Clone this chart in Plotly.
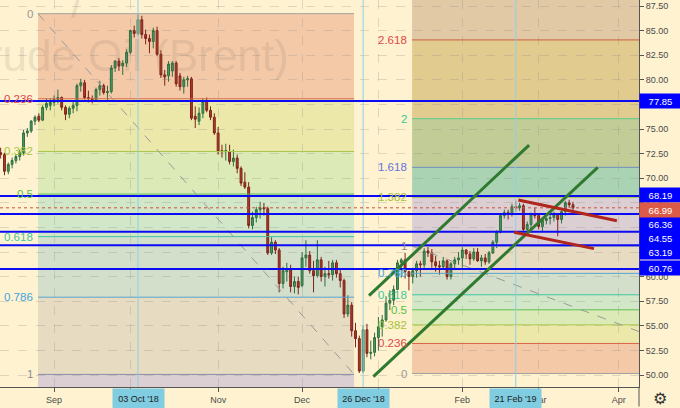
import plotly.graph_objects as go
import pandas as pd

# ---------------- data ----------------
HOLIDAYS = ["2018-12-25", "2019-01-01"]
dates = [d.strftime("%Y-%m-%d") for d in pd.bdate_range("2018-08-13", "2019-03-14")
         if d.strftime("%Y-%m-%d") not in HOLIDAYS]

opens = [
    72.9, 72.6, 72.4, 70.7, 71.4, 71.8, 72.2, 72.6, 74.6, 74.8, 75.8, 76.3, 75.9, 77.2, 77.4,
    77.7, 78.0, 78.2, 77.2, 76.5, 77.1, 77.4, 79.4, 79.7, 78.2, 78.1, 78.0, 79.0, 79.4, 78.7, 78.8, 81.2, 81.9, 81.4, 81.7,
    82.8, 85.0, 84.7, 86.1, 84.6, 84.2, 83.9, 85.0, 82.6, 80.5, 80.4, 80.9, 81.7, 80.4, 79.3, 80.0, 80.1, 76.3, 75.8, 76.6, 77.8, 76.9, 76.2,
    74.6, 72.8, 72.7, 72.7, 71.7, 72.05, 71.0, 69.6, 69.1, 65.2, 66.0, 66.8, 67.0, 66.9, 62.4, 63.5, 62.7, 59.3, 60.5, 60.8, 59.0, 59.5,
    59.1, 61.9, 62.2, 60.6, 60.1, 61.7, 60.0, 60.3, 60.2, 61.4, 60.3, 59.6, 56.2, 57.1, 54.5, 53.7, 50.4, 54.6, 52.2, 52.3,
    53.8, 54.9, 55.6, 57.3, 57.6, 58.7, 61.4, 61.7, 60.5, 60.0, 60.6, 61.3, 61.2, 62.6, 62.4, 61.5, 61.1, 61.0, 61.6, 60.0, 61.3, 61.7,
    61.9, 62.7, 62.3, 61.8, 62.5, 61.6, 61.9, 61.5, 62.4, 63.5, 64.5, 66.2, 66.5, 66.4, 67.1, 67.0, 67.2, 64.8, 65.3, 66.3,
    66.2, 65.1, 65.7, 65.9, 66.0, 66.3, 65.8, 66.6, 67.5, 67.3,
]
highs = [
    73.3, 73.1, 72.6, 71.6, 72.1, 72.4, 72.9, 74.9, 75.1, 75.9, 76.4, 76.6, 77.4, 78.1, 78.1,
    78.4, 79.0, 78.3, 77.4, 77.3, 77.8, 79.6, 80.1, 80.0, 78.9, 78.4, 79.2, 79.9, 79.6, 79.4, 81.5, 82.0, 82.2, 82.0, 83.1,
    85.1, 85.5, 86.72, 86.5, 85.1, 84.6, 85.3, 85.4, 83.0, 81.0, 81.9, 81.9, 81.9, 80.7, 80.3, 80.4, 80.3, 77.3, 77.2, 78.1, 78.2, 77.3, 76.6,
    75.2, 73.4, 73.5, 73.4, 72.9, 72.4, 71.2, 70.6, 69.6, 66.6, 67.1, 67.6, 67.5, 67.1, 64.0, 63.7, 62.9, 61.0, 61.4, 61.2, 60.0, 60.0,
    62.5, 63.7, 62.6, 61.6, 63.7, 62.0, 61.0, 61.6, 61.7, 61.7, 60.7, 59.8, 58.1, 57.4, 55.3, 54.0, 55.0, 55.2, 53.5, 54.3,
    55.9, 56.1, 58.0, 58.6, 59.1, 61.7, 61.9, 62.4, 60.6, 60.9, 61.6, 61.6, 62.9, 63.0, 62.8, 62.1, 61.6, 62.0, 61.7, 61.5, 62.0, 62.5,
    63.0, 62.8, 62.6, 62.9, 62.9, 62.2, 62.3, 62.6, 63.7, 64.7, 66.4, 66.8, 66.8, 67.4, 67.7, 67.5, 67.4, 65.6, 66.5, 67.0,
    66.4, 65.9, 66.0, 66.3, 66.6, 66.4, 66.7, 67.7, 67.8, 67.6,
]
lows = [
    72.2, 72.0, 70.3, 70.4, 71.0, 71.5, 71.8, 72.3, 74.2, 74.6, 75.4, 75.7, 75.8, 76.9, 76.9,
    77.3, 77.6, 76.9, 75.9, 76.1, 76.6, 76.8, 78.8, 78.0, 77.7, 77.6, 77.9, 78.4, 78.5, 77.9, 78.6, 80.8, 80.9, 80.5, 81.3,
    82.6, 84.3, 84.5, 84.2, 83.6, 82.7, 83.2, 82.4, 80.2, 79.4, 79.8, 80.3, 79.3, 78.9, 78.6, 79.3, 75.9, 75.1, 75.4, 76.1, 76.7, 75.9, 74.4,
    72.4, 72.1, 71.8, 71.4, 71.2, 70.5, 69.2, 68.9, 64.9, 64.8, 65.5, 65.9, 66.2, 62.2, 62.2, 62.3, 58.4, 58.8, 59.5, 58.4, 58.3, 58.2,
    58.9, 61.0, 60.3, 58.4, 59.9, 59.5, 59.0, 59.8, 59.6, 59.9, 58.9, 55.8, 55.9, 53.9, 52.8, 50.2, 50.2, 51.8, 51.6, 51.9,
    52.5, 53.9, 55.4, 56.6, 57.1, 58.6, 59.9, 59.8, 58.6, 59.3, 59.9, 60.0, 60.9, 62.0, 60.9, 60.5, 60.2, 60.8, 59.7, 59.7, 60.8, 61.2,
    60.9, 61.8, 61.2, 61.6, 61.5, 61.0, 61.2, 61.3, 62.3, 62.9, 64.4, 65.9, 65.8, 66.1, 66.6, 66.7, 64.6, 64.4, 64.9, 65.9,
    64.8, 64.5, 65.3, 65.3, 65.6, 64.1, 65.4, 66.2, 67.0, 66.3,
]
closes = [
    72.6, 72.4, 70.7, 71.4, 71.8, 72.2, 72.6, 74.6, 74.8, 75.8, 76.2, 75.9, 77.2, 77.6, 77.7,
    78.0, 78.2, 77.2, 76.5, 77.1, 77.4, 79.4, 79.7, 78.2, 78.1, 78.0, 79.0, 79.4, 78.7, 78.8, 81.2, 81.9, 81.4, 81.7, 82.8,
    85.0, 84.7, 86.1, 84.6, 84.2, 83.9, 85.0, 82.6, 80.5, 80.3, 81.6, 81.7, 79.6, 79.3, 80.0, 80.1, 76.1, 76.0, 76.6, 77.8, 76.9, 76.2, 74.6,
    72.7, 72.7, 72.8, 71.7, 72.05, 71.0, 69.5, 69.1, 65.2, 66.0, 66.8, 67.0, 66.9, 62.4, 63.5, 62.7, 59.3, 60.6, 60.8, 59.0, 59.5, 58.9,
    61.9, 62.2, 60.6, 60.1, 61.7, 60.0, 60.3, 60.2, 61.4, 60.3, 59.6, 56.2, 57.1, 54.5, 53.7, 50.4, 54.6, 52.2, 52.3, 53.8,
    54.9, 55.6, 57.3, 57.6, 58.7, 61.4, 61.7, 60.5, 60.0, 60.6, 61.3, 61.2, 62.6, 62.4, 61.5, 61.1, 61.0, 61.6, 60.0, 61.3, 61.7, 61.9,
    62.7, 62.3, 61.8, 62.5, 61.6, 61.9, 61.5, 62.4, 63.5, 64.5, 66.2, 66.5, 66.4, 67.1, 67.0, 67.2, 64.8, 65.3, 66.3, 66.2,
    65.1, 65.7, 65.9, 66.0, 66.3, 65.8, 66.6, 67.5, 67.3, 66.99,
]
assert len(dates) == len(opens) == len(highs) == len(lows) == len(closes)

# Fibonacci drawings (level 0 price, level 1 price, box start/end, trend anchors)
FIB_LEVELS = [0, 0.236, 0.382, 0.5, 0.618, 0.786, 1, 1.382, 1.618, 2, 2.618, 3.618]
FIB_TEXT = ["0", "0.236", "0.382", "0.5", "0.618", "0.786", "1", "1.382", "1.618", "2", "2.618", "3.618"]
FIB1 = dict(x0="2018-08-27 19:00", x1="2018-12-20 15:00", lvl0=86.72, lvl1=50.06,
            trend=(86.72, 50.06), shown=7)
FIB2 = dict(x0="2019-01-14 19:55", x1="2019-05-07 12:00", lvl0=50.15, lvl1=63.10,
            trend=(63.10, 50.15), shown=11)

SUPPORT_LEVELS = [77.85, 68.19, 66.36, 64.55, 63.19, 60.76]
LAST_PRICE = 66.99
CURSOR_DATES = ["2018-10-03", "2018-12-26", "2019-02-21"]
CURSOR_TEXT = ["03 Oct '18", "26 Dec '18", "21 Feb '19"]
MONTH_TICKS = ["2018-09-03", "2018-10-01", "2018-11-01", "2018-12-03", "2019-01-02",
               "2019-02-01", "2019-03-01", "2019-04-01"]
MONTH_TEXT = ["Sep", "Oct", "Nov", "Dec", "2019", "Feb", "Mar", "Apr"]
PRICE_TICKS = [50.0 + 2.5 * i for i in range(16)]

GREEN_LINES = [(("2018-12-27 13:00", 58.06), ("2019-02-26 12:00", 73.37)),
               (("2018-12-28 16:20", 49.83), ("2019-03-22 12:00", 71.11))]
RED_LINES = [(("2019-02-21 16:30", 67.78), ("2019-03-29 12:00", 65.68)),
             (("2019-02-20 13:30", 64.50), ("2019-03-21 12:00", 62.84))]

X_RANGE = ["2018-08-13 19:55", "2019-04-08 07:12"]
Y_RANGE = [48.78, 88.11]

# ---------------- styles ----------------
BG = "#FEF2D0"
FONT = "Liberation Sans"
PLOT_W, PLOT_H = 639, 387
FIB_LINE_COLORS = ["#A0A0A0", "#D9604C", "#A6C64A", "#5CC050", "#3FC6A0", "#55A5CF",
                   "#8C8CA8", "#A6C64A", "#6B8FC0", "#5CCB8E", "#C8603C", "#A0A0A0"]
FIB_TEXT_COLORS = ["#999999", "#E04848", "#A6C43A", "#52C23E", "#3CC8A0", "#42A5E0",
                   "#8A8A8A", "#A6C43A", "#6672DC", "#3CC890", "#E04848", "#999999"]
FIB_FILLS = ["#F4C9A8", "#ECE8AA", "#DBEAB6", "#D2E6C8", "#D3DECB", "#E7DBC1",
             "#DBCFD3", "#AAD3B4", "#C1CC97", "#E2CB8E", "#E0C9A4"]

fig = go.Figure()
fig.add_trace(go.Candlestick(
    x=dates, open=opens, high=highs, low=lows, close=closes,
    increasing=dict(line=dict(color="#2F6E3F", width=1), fillcolor="#4E9A62"),
    decreasing=dict(line=dict(color="#7E2419", width=1), fillcolor="#B03A2E"),
    whiskerwidth=0, hoverinfo="skip", showlegend=False,
))

shapes = []
annotations = []

def fib_price(f, lvl):
    return f["lvl0"] + lvl * (f["lvl1"] - f["lvl0"])

for f in (FIB1, FIB2):
    n = f["shown"]
    for i in range(n):
        shapes.append(dict(type="rect", xref="x", yref="y", x0=f["x0"], x1=f["x1"],
                           y0=fib_price(f, FIB_LEVELS[i]), y1=fib_price(f, FIB_LEVELS[i + 1]),
                           fillcolor=FIB_FILLS[i], line=dict(width=0), layer="below"))
    for i in range(n):
        p = fib_price(f, FIB_LEVELS[i])
        shapes.append(dict(type="line", xref="x", yref="y", x0=f["x0"], x1=f["x1"], y0=p, y1=p,
                           line=dict(color=FIB_LINE_COLORS[i], width=1)))
        annotations.append(dict(x=f["x0"], y=p, xref="x", yref="y", text=FIB_TEXT[i],
                                showarrow=False, xanchor="right", yanchor="middle", xshift=-3,
                                font=dict(family=FONT, size=11.5, color=FIB_TEXT_COLORS[i])))
    shapes.append(dict(type="line", xref="x", yref="y", x0=f["x0"], x1=f["x1"],
                       y0=f["trend"][0], y1=f["trend"][1],
                       line=dict(color="#9A9A9A", width=1, dash="dash")))

for d in CURSOR_DATES:
    shapes.append(dict(type="line", xref="x", yref="paper", x0=d, x1=d, y0=0, y1=1,
                       line=dict(color="#8ED0E2", width=1)))

for p in SUPPORT_LEVELS:
    shapes.append(dict(type="line", xref="paper", yref="y", x0=0, x1=1, y0=p, y1=p,
                       line=dict(color="#0A0AF5", width=2)))
shapes.append(dict(type="line", xref="paper", yref="y", x0=0, x1=1, y0=LAST_PRICE, y1=LAST_PRICE,
                   line=dict(color="#D0503C", width=1, dash="dot")))

for (a, b) in GREEN_LINES:
    shapes.append(dict(type="line", xref="x", yref="y", x0=a[0], y0=a[1], x1=b[0], y1=b[1],
                       line=dict(color="#2F7A2F", width=3)))
for (a, b) in RED_LINES:
    shapes.append(dict(type="line", xref="x", yref="y", x0=a[0], y0=a[1], x1=b[0], y1=b[1],
                       line=dict(color="#B0261C", width=3)))

# watermark
annotations.append(dict(x=-46 / PLOT_W, y=1 - 55 / PLOT_H, xref="paper", yref="paper",
                        text="Crude Oil (Brent)", showarrow=False, xanchor="left", yanchor="middle",
                        font=dict(family=FONT, size=44, color="rgba(110,100,90,0.14)")))
annotations.append(dict(x=77 / PLOT_W, y=1 - 2 / PLOT_H, xref="paper", yref="paper",
                        text="/", showarrow=False, xanchor="center", yanchor="middle",
                        font=dict(family=FONT, size=44, color="rgba(110,100,90,0.14)")))

tag_shift = {77.85: 0, 68.19: 1, 66.36: -10, 64.55: -6.5, 63.19: -7, 60.76: 1}
for p in SUPPORT_LEVELS:
    annotations.append(dict(x=1, y=p, xref="paper", yref="y", text=f"{p:.2f}", showarrow=False,
                            xanchor="left", yanchor="middle", yshift=tag_shift[p],
                            width=39, height=12, borderpad=1, bgcolor="#0000FF", align="center",
                            font=dict(family=FONT, size=9.5, color="white")))
annotations.append(dict(x=1, y=LAST_PRICE, xref="paper", yref="y", text=f"{LAST_PRICE:.2f}",
                        showarrow=False, xanchor="left", yanchor="middle", yshift=-2,
                        width=39, height=12, borderpad=1, bgcolor="#DC5B48", align="center",
                        font=dict(family=FONT, size=9.5, color="white")))

for d, t in zip(CURSOR_DATES, CURSOR_TEXT):
    annotations.append(dict(x=d, y=0, xref="x", yref="paper", text=t, showarrow=False,
                            xanchor="center", yanchor="top", yshift=-1,
                            width=49, height=17, borderpad=1, bgcolor="#80CCE0",
                            font=dict(family=FONT, size=9, color="#1E1E1E")))

# settings gear in the axis corner (anchored to the plot corner, shifted in pixels)
annotations.append(dict(x=1, y=0, xref="paper", yref="paper", text="⚙",
                        showarrow=False, xanchor="center", yanchor="middle",
                        xshift=21, yshift=-11,
                        font=dict(family="DejaVu Sans", size=16, color="#333333")))
# corner separator (continuation of the price-axis line)
annotations.append(dict(x=1, y=0, xref="paper", yref="paper", text="",
                        showarrow=True, arrowhead=0, arrowwidth=1, arrowcolor="#555555",
                        ax=0, ay=21, axref="pixel", ayref="pixel"))

fig.update_layout(
    width=680, height=408,
    margin=dict(l=0, r=41, t=0, b=21, autoexpand=False),
    paper_bgcolor=BG, plot_bgcolor=BG,
    showlegend=False,
    font=dict(family=FONT, size=9, color="#4A4A4A"),
    shapes=shapes, annotations=annotations,
    xaxis=dict(type="date", range=X_RANGE,
               rangebreaks=[dict(bounds=["sat", "mon"]), dict(values=HOLIDAYS)],
               tickvals=MONTH_TICKS, ticktext=MONTH_TEXT,
               showgrid=True, gridcolor="rgba(140,140,140,0.28)", griddash="dash", gridwidth=1,
               ticks="outside", ticklen=4, tickcolor="#555555",
               showline=True, linecolor="#555555", linewidth=1,
               rangeslider=dict(visible=False), fixedrange=True, automargin=False,
               tickfont=dict(family=FONT, size=9, color="#4A4A4A")),
    yaxis=dict(side="right", range=Y_RANGE, tickvals=PRICE_TICKS, tickformat=".2f",
               showgrid=True, gridcolor="rgba(140,140,140,0.28)", griddash="dash", gridwidth=1,
               ticks="outside", ticklen=4, tickcolor="#555555",
               showline=True, linecolor="#555555", linewidth=1, zeroline=False, fixedrange=True,
               automargin=False,
               tickfont=dict(family=FONT, size=9, color="#4A4A4A")),
)

fig.write_html("out.html", config=dict(displayModeBar=False),
               post_script="document.body.style.margin='0px';document.body.style.overflow='hidden';")
